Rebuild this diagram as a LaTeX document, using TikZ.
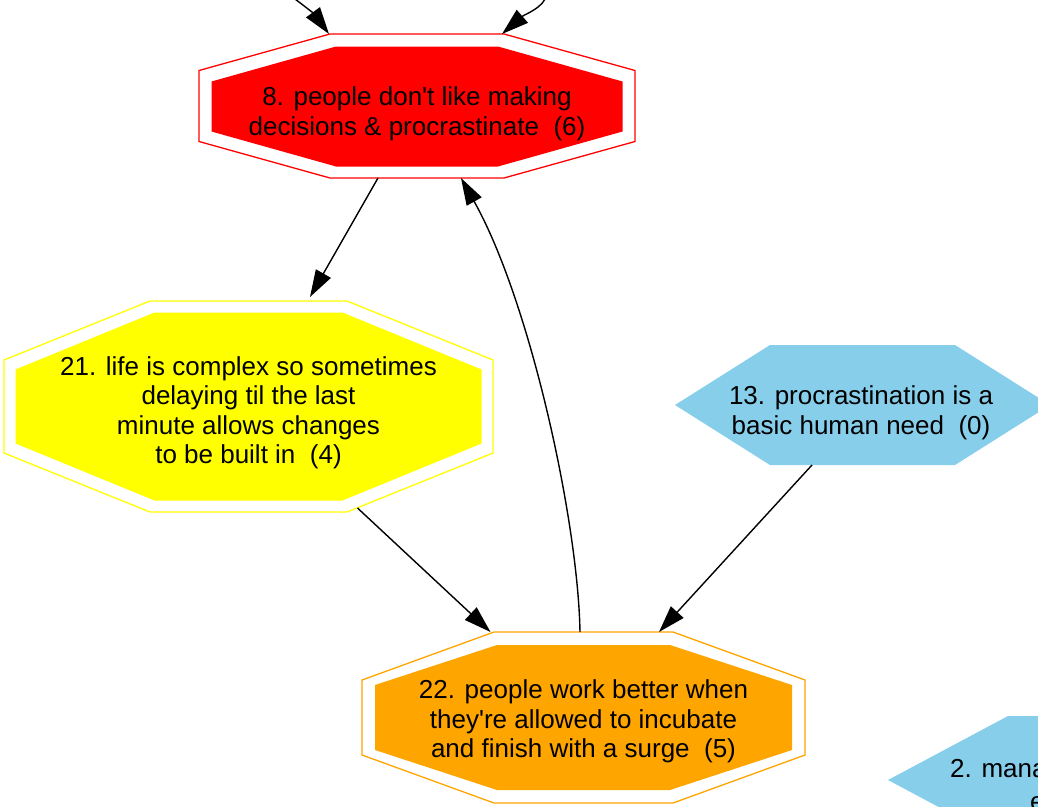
\documentclass[tikz,border=0pt]{standalone}
\usepackage{fontspec}
\setmainfont{Liberation Sans}[Ligatures=TeXOff]
\usetikzlibrary{arrows.meta}
\definecolor{gvred}{HTML}{FF0000}
\definecolor{gvyellow}{HTML}{FFFF00}
\definecolor{gvorange}{HTML}{FFA500}
\definecolor{gvblue}{HTML}{87CEEB}
% octagon: [style]{cx}{cy}{half width}{half height}{half top edge}{half side edge}
\newcommand{\octo}[7][]{\path[#1] ({#2-#6},{#3-#5}) -- ({#2+#6},{#3-#5}) -- ({#2+#4},{#3-#7}) -- ({#2+#4},{#3+#7}) -- ({#2+#6},{#3+#5}) -- ({#2-#6},{#3+#5}) -- ({#2-#4},{#3+#7}) -- ({#2-#4},{#3-#7}) -- cycle;}
% hexagon: [style]{cx}{cy}{half width}{half height}{half top edge}
\newcommand{\hexa}[6][]{\path[#1] ({#2-#6},{#3-#5}) -- ({#2+#6},{#3-#5}) -- ({#2+#4},{#3}) -- ({#2+#6},{#3+#5}) -- ({#2-#6},{#3+#5}) -- ({#2-#4},{#3}) -- cycle;}
\tikzset{
  holder/.style={rectangle, inner sep=0pt, outer sep=0pt},
  txt/.style={inner sep=0pt, align=center, font=\fontsize{26}{29.5}\selectfont},
  border/.style={draw=#1, line width=1.3pt},
  edge/.style={draw=black, line width=1.4pt, -{Triangle[length=27pt,width=17pt]}}
}
\begin{document}
\begin{tikzpicture}[x=1pt,y=-1pt]
\useasboundingbox (0,0) rectangle (1038,806);
\clip (0,0) rectangle (1038,806);

% shape holders
\node[holder, minimum width=436pt, minimum height=144pt] (n8) at (417,106) {};
\node[holder, minimum width=489pt, minimum height=211pt] (n21) at (248.5,406.5) {};
\node[holder, minimum width=443pt, minimum height=171pt] (n22) at (583.5,717.5) {};
\node[holder, minimum width=375pt, minimum height=120pt] (n13) at (862.5,405) {};
\node[holder, minimum width=424pt, minimum height=128pt] (n2) at (1100,780) {};

% node 8
\octo[border=gvred]{417}{106}{218}{72}{87}{35.5}
\octo[fill=gvred]{417}{106.5}{205.5}{60}{81}{25}
% node 21
\octo[border=gvyellow]{248.5}{406.5}{244.5}{105.5}{98.5}{46.5}
\octo[fill=gvyellow]{248.5}{406.5}{233}{94}{94}{37}
% node 22
\octo[border=gvorange]{583.5}{717.5}{221.5}{85.5}{89.5}{37.5}
\octo[fill=gvorange]{583.5}{717.5}{208.5}{72.5}{86.5}{32.5}
% node 13
\hexa[fill=gvblue]{862.5}{405}{187.5}{60}{92.5}
% node 2
\hexa[fill=gvblue]{1100}{780}{212}{64}{92}

% texts
\node[txt] (t8) at (417,114) {8. people don't like making\\decisions \& procrastinate\ \ (6)};
\node[txt] (t21) at (248.5,413) {21. life is complex so sometimes\\delaying til the last\\minute allows changes\\to be built in\ \ (4)};
\node[txt] (t22) at (583.5,721.5) {22. people work better when\\they're allowed to incubate\\and finish with a surge\ \ (5)};
\node[txt] (t13) at (861,413) {13. procrastination is a\\basic human need\ \ (0)};
\node[txt, anchor=base west] (t2a) at (950,777) {2. mana};
\node[txt, anchor=base west] (t2b) at (1030,810.5) {e};

% connectors
\coordinate (c1) at (288,-6);
\coordinate (c2) at (547,-6);
\draw[edge] (c1) .. controls (305,6) and (315,15) .. ([xshift=-88pt]n8.north);
\draw[edge] (c2) .. controls (544,8) and (525,14) .. ([xshift=85pt]n8.north);
\draw[edge] ([xshift=-39pt]n8.south) -- ([xshift=61.5pt,yshift=4pt]n21.north);
\draw[edge] ([xshift=109pt,yshift=4pt]n21.south) -- ([xshift=-93pt]n22.north);
\draw[edge] ([xshift=-50.5pt]n13.south) -- ([xshift=75.5pt]n22.north);
\draw[edge] ([xshift=-3.5pt]n22.north) .. controls +(-2,-112) and +(69,123) .. ([xshift=44pt]n8.south);
\end{tikzpicture}
\end{document}
